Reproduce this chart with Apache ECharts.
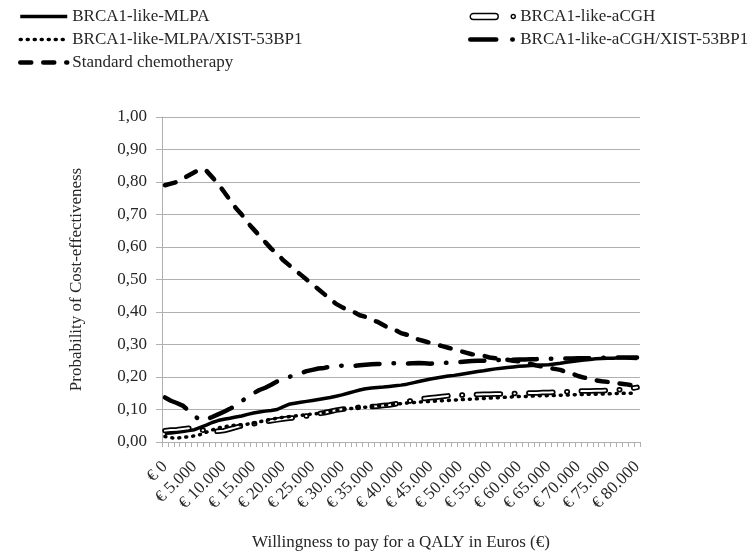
<!DOCTYPE html>
<html>
<head>
<meta charset="utf-8">
<script src="https://cdn.jsdelivr.net/npm/echarts@6/dist/echarts.min.js"></script>
<style>
  html, body { margin: 0; padding: 0; background: #fff; }
  #chart { width: 753px; height: 556px; }
</style>
</head>
<body>
<div id="chart"></div>
<script>
// willingness to pay, 0 .. 80.000 euro, one point per 1.000
const wtpStep = 1000;
const wtpCount = 81;
const categories = [];
for (let i = 0; i < wtpCount; i++) {
  categories.push('€ ' + (i * wtpStep).toLocaleString('de-DE'));
}

const yTicks = [0, 0.1, 0.2, 0.3, 0.4, 0.5, 0.6, 0.7, 0.8, 0.9, 1.0];

const mlpa = [
  0.027, 0.028, 0.030, 0.032, 0.035, 0.038, 0.045, 0.052, 0.060, 0.066,
  0.070, 0.073, 0.077, 0.080, 0.085, 0.089, 0.092, 0.095, 0.097, 0.100,
  0.108, 0.116, 0.119, 0.122, 0.125, 0.128, 0.131, 0.134, 0.137, 0.141,
  0.145, 0.150, 0.155, 0.160, 0.164, 0.166, 0.168, 0.169, 0.171, 0.173,
  0.175, 0.178, 0.182, 0.186, 0.190, 0.194, 0.197, 0.200, 0.203, 0.205,
  0.208, 0.211, 0.214, 0.217, 0.219, 0.222, 0.225, 0.227, 0.229, 0.231,
  0.233, 0.234, 0.235, 0.236, 0.237, 0.238, 0.240, 0.242, 0.245, 0.248,
  0.250, 0.252, 0.254, 0.256, 0.257, 0.258, 0.258, 0.259, 0.259, 0.258,
  0.257
];

const mlpaXist = [
  0.017, 0.013, 0.012, 0.014, 0.016, 0.019, 0.023, 0.030, 0.037, 0.043,
  0.047, 0.050, 0.052, 0.053, 0.055, 0.058, 0.062, 0.066, 0.070, 0.073,
  0.076, 0.078, 0.080, 0.082, 0.084, 0.086, 0.088, 0.091, 0.094, 0.097,
  0.100, 0.102, 0.104, 0.106, 0.107, 0.109, 0.111, 0.113, 0.115, 0.117,
  0.118, 0.120, 0.121, 0.123, 0.124, 0.125, 0.126, 0.127, 0.128, 0.129,
  0.130, 0.131, 0.132, 0.133, 0.134, 0.135, 0.136, 0.137, 0.138, 0.139,
  0.140, 0.140, 0.141, 0.142, 0.142, 0.143, 0.143, 0.144, 0.145, 0.145,
  0.146, 0.146, 0.147, 0.147, 0.148, 0.148, 0.149, 0.149, 0.150, 0.150,
  0.150
];

const standardChemo = [
  0.790, 0.795, 0.800, 0.810, 0.820, 0.830, 0.840, 0.835, 0.815, 0.795,
  0.770, 0.745, 0.720, 0.700, 0.675, 0.655, 0.635, 0.615, 0.595, 0.580,
  0.560, 0.545, 0.530, 0.515, 0.500, 0.485, 0.470, 0.455, 0.440, 0.425,
  0.415, 0.405, 0.400, 0.390, 0.385, 0.375, 0.370, 0.360, 0.350, 0.345,
  0.335, 0.330, 0.320, 0.315, 0.310, 0.305, 0.300, 0.295, 0.290, 0.285,
  0.280, 0.275, 0.270, 0.268, 0.265, 0.260, 0.258, 0.255, 0.253, 0.250,
  0.248, 0.245, 0.240, 0.235, 0.232, 0.228, 0.225, 0.222, 0.215, 0.210,
  0.203, 0.198, 0.195, 0.190, 0.187, 0.185, 0.183, 0.180, 0.178, 0.175,
  0.170
];

const acgh = [
  0.035, 0.037, 0.038, 0.040, 0.042, 0.042, 0.038, 0.034, 0.032, 0.033,
  0.035, 0.040, 0.045, 0.050, 0.053, 0.056, 0.059, 0.062, 0.065, 0.068,
  0.071, 0.073, 0.075, 0.078, 0.080, 0.083, 0.087, 0.090, 0.094, 0.098,
  0.101, 0.103, 0.105, 0.107, 0.108, 0.109, 0.110, 0.112, 0.114, 0.117,
  0.120, 0.124, 0.128, 0.131, 0.134, 0.136, 0.138, 0.140, 0.142, 0.143,
  0.144, 0.145, 0.146, 0.146, 0.147, 0.147, 0.148, 0.148, 0.149, 0.149,
  0.150, 0.150, 0.151, 0.151, 0.152, 0.152, 0.153, 0.154, 0.155, 0.155,
  0.156, 0.157, 0.157, 0.158, 0.158, 0.159, 0.160, 0.161, 0.162, 0.165,
  0.168
];

const acghXist = [
  0.137, 0.127, 0.120, 0.112, 0.097, 0.080, 0.067, 0.070, 0.077, 0.085,
  0.093, 0.102, 0.112, 0.125, 0.140, 0.150, 0.160, 0.167, 0.176, 0.186,
  0.195, 0.200, 0.206, 0.212, 0.218, 0.222, 0.226, 0.228, 0.232, 0.234,
  0.235, 0.233, 0.234, 0.236, 0.238, 0.239, 0.240, 0.241, 0.242, 0.242,
  0.242, 0.241, 0.242, 0.243, 0.242, 0.241, 0.242, 0.243, 0.244, 0.245,
  0.246, 0.248, 0.249, 0.250, 0.250, 0.251, 0.252, 0.252, 0.253, 0.253,
  0.254, 0.254, 0.255, 0.255, 0.256, 0.256, 0.256, 0.257, 0.257, 0.257,
  0.258, 0.258, 0.258, 0.259, 0.259, 0.260, 0.260, 0.260, 0.260, 0.260,
  0.260
];

const FONT = "'Liberation Serif', 'Times New Roman', serif";
const TEXT = '#262626';
const GRIDGRAY = '#b0b0b0';
const dashDot = [24, 14, 0.5, 14];

const chart = echarts.init(document.getElementById('chart'));

// hide the series symbol that the legend would draw on top of the line sample
const noSymbol = { opacity: 0 };

const option = {
  animation: false,
  backgroundColor: '#fff',
  textStyle: { fontFamily: FONT, color: TEXT },
  legend: [
    {
      left: 13, top: 3, orient: 'vertical',
      itemWidth: 47, itemHeight: 12, itemGap: 6,
      textStyle: { fontFamily: FONT, fontSize: 17, color: TEXT },
      itemStyle: noSymbol,
      data: [
        { name: 'BRCA1-like-MLPA', lineStyle: { color: '#000', width: 3.5, type: 'solid' } },
        { name: 'BRCA1-like-MLPA/XIST-53BP1', lineStyle: { color: '#000', width: 3.5, type: [1, 6], cap: 'round' } },
        { name: 'Standard chemotherapy', lineStyle: { color: '#000', width: 4.5, type: [11, 12], cap: 'round' } }
      ]
    },
    {
      left: 463, top: 3, orient: 'vertical',
      itemWidth: 45, itemHeight: 7, itemGap: 6,
      textStyle: { fontFamily: FONT, fontSize: 17, color: TEXT },
      itemStyle: noSymbol,
      data: [
        {
          name: 'BRCA1-like-aCGH',
          icon: 'path://M3,0 H25 A3,3 0 0 1 25,6 H3 A3,3 0 0 1 3,0 Z M41,3 A2,2 0 1 0 45,3 A2,2 0 1 0 41,3 Z',
          itemStyle: { color: '#fff', borderColor: '#000', borderWidth: 1.4, opacity: 1 }
        },
        { name: 'BRCA1-like-aCGH/XIST-53BP1', lineStyle: { color: '#000', width: 4.5, type: [26, 16, 0.5, 20], cap: 'round' } }
      ]
    }
  ],
  grid: { left: 162, right: 113, top: 117, bottom: 106 },
  xAxis: {
    type: 'category',
    data: categories,
    boundaryGap: true,
    name: 'Willingness to pay for a QALY in Euros (€)',
    nameLocation: 'middle',
    nameGap: 92,
    nameTextStyle: { fontFamily: FONT, fontSize: 17, color: TEXT },
    axisLine: { lineStyle: { color: GRIDGRAY, width: 1 } },
    axisTick: { show: true, interval: 0, length: 5, lineStyle: { color: GRIDGRAY } },
    axisLabel: {
      interval: 4, rotate: 45, margin: 22,
      fontFamily: FONT, fontSize: 17, color: TEXT
    },
    splitLine: { show: false }
  },
  yAxis: {
    type: 'value',
    min: yTicks[0],
    max: yTicks[yTicks.length - 1],
    interval: 0.1,
    name: 'Probability of Cost-effectiveness',
    nameLocation: 'middle',
    nameGap: 77,
    nameRotate: 90,
    nameTextStyle: { fontFamily: FONT, fontSize: 17, color: TEXT },
    axisLine: { show: true, lineStyle: { color: GRIDGRAY, width: 1 } },
    axisTick: { show: true, length: 6, lineStyle: { color: GRIDGRAY } },
    axisLabel: {
      margin: 15, fontFamily: FONT, fontSize: 17, color: TEXT,
      formatter: v => v.toFixed(2).replace('.', ',')
    },
    splitLine: { lineStyle: { color: GRIDGRAY, width: 1 } }
  },
  series: [
    {
      name: 'Standard chemotherapy', type: 'line', data: standardChemo,
      symbol: 'none', itemStyle: { color: '#000' },
      lineStyle: { color: '#000', width: 4.5, type: [11, 12], cap: 'round' }
    },
    {
      name: 'BRCA1-like-aCGH/XIST-53BP1', type: 'line', data: acghXist,
      symbol: 'none', itemStyle: { color: '#000' },
      lineStyle: { color: '#000', width: 4.5, type: dashDot, cap: 'round' }
    },
    {
      name: 'BRCA1-like-MLPA', type: 'line', data: mlpa,
      symbol: 'none', itemStyle: { color: '#000' },
      lineStyle: { color: '#000', width: 3.5, type: 'solid' }
    },
    {
      name: 'BRCA1-like-aCGH', type: 'line', data: acgh,
      symbol: 'none', itemStyle: { color: '#000' },
      lineStyle: { color: '#000', width: 5.5, type: dashDot, cap: 'round' }
    },
    {
      // white core of the double line
      name: 'aCGH core', type: 'line', data: acgh,
      symbol: 'none', itemStyle: { color: '#fff' },
      lineStyle: { color: '#fff', width: 2, type: dashDot, cap: 'round' }
    },
    {
      name: 'BRCA1-like-MLPA/XIST-53BP1', type: 'line', data: mlpaXist,
      symbol: 'none', itemStyle: { color: '#000' },
      lineStyle: { color: '#000', width: 3.5, type: [1, 6], cap: 'round' }
    }
  ]
};

chart.setOption(option);
</script>
</body>
</html>
